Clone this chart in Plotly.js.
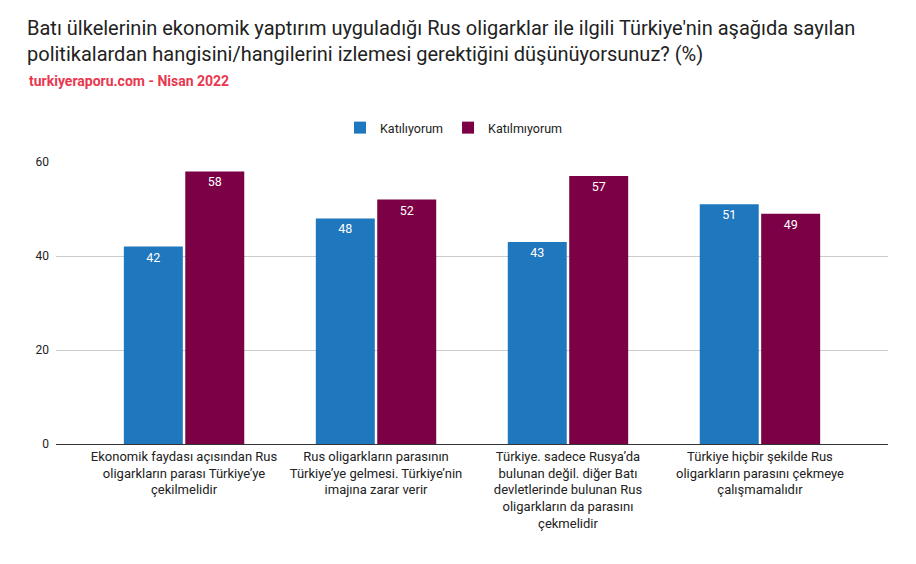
<!DOCTYPE html>
<html><head><meta charset="utf-8">
<script src="https://cdn.plot.ly/plotly-3.0.1.min.js"></script>
<style>html,body{margin:0;padding:0;background:#fff}#c{width:916px;height:564px}</style>
</head><body><div id="c"></div>
<script>
var categories = [
  "Ekonomik faydası açısından Rus<br>oligarkların parası Türkiye’ye<br>çekilmelidir",
  "Rus oligarkların parasının<br>Türkiye’ye gelmesi. Türkiye’nin<br>imajına zarar verir",
  "Türkiye. sadece Rusya’da<br>bulunan değil. diğer Batı<br>devletlerinde bulunan Rus<br>oligarkların da parasını<br>çekmelidir",
  "Türkiye hiçbir şekilde Rus<br>oligarkların parasını çekmeye<br>çalışmamalıdır"
];
var katiliyorum = [42, 48, 43, 51];
var katilmiyorum = [58, 52, 57, 49];
var seriesNames = ["Katılıyorum", "Katılmıyorum"];
var tickVals = [0, 20, 40, 60];

var font = "Roboto, Arial, sans-serif";
function bar(name, vals, color) {
  return {
    type: "bar", name: name, x: categories, y: vals,
    marker: {color: color},
    text: vals.map(String), textposition: "inside", insidetextanchor: "end",
    textfont: {color: "#ffffff", size: 12.5, family: font},
    cliponaxis: false, hoverinfo: "none"
  };
}
var data = [bar(seriesNames[0], katiliyorum, "#1f77be"), bar(seriesNames[1], katilmiyorum, "#7b0046")];
var layout = {
  width: 916, height: 564,
  margin: {l: 56, r: 28, t: 162, b: 120},
  paper_bgcolor: "#fff", plot_bgcolor: "#fff",
  font: {family: font, color: "#222", size: 12},
  barmode: "group", bargap: 0.36, bargroupgap: 0.04,
  title: {
    text: "Batı ülkelerinin ekonomik yaptırım uyguladığı Rus oligarklar ile ilgili Türkiye'nin aşağıda sayılan<br>politikalardan hangisini/hangilerini izlemesi gerektiğini düşünüyorsunuz? (%)",
    x: 27/916, xanchor: "left", xref: "container",
    y: 1 - 35/564, yanchor: "top", yref: "container",
    font: {family: font, size: 20, color: "#222"}
  },
  annotations: [{
    text: "<b>turkiyeraporu.com - Nisan 2022</b>",
    xref: "paper", yref: "paper", x: (27-56)/832, y: (444-81)/282,
    xanchor: "left", yanchor: "middle", showarrow: false,
    font: {family: font, size: 14, color: "#e8384f"}
  }],
  legend: {
    orientation: "h", x: (454-56)/832, xanchor: "center", y: (444-128)/282, yanchor: "middle",
    font: {family: font, size: 12.5, color: "#222"}, traceorder: "normal"
  },
  xaxis: {
    type: "category", range: [-0.667, 3.667], showgrid: false,
    showline: true, linecolor: "#333", linewidth: 1,
    tickfont: {family: font, size: 13, color: "#222"}, ticks: "", fixedrange: true
  },
  yaxis: {
    range: [0, 60], tickvals: tickVals, ticktext: tickVals.map(String),
    showgrid: true, gridcolor: "#cccccc", zeroline: true, zerolinecolor: "#333",
    tickfont: {family: font, size: 12, color: "#222"}, ticks: "", ticklabelstandoff: 6
  },
  showlegend: true
};
Plotly.newPlot("c", data, layout, {displayModeBar: false, staticPlot: true});
</script></body></html>
